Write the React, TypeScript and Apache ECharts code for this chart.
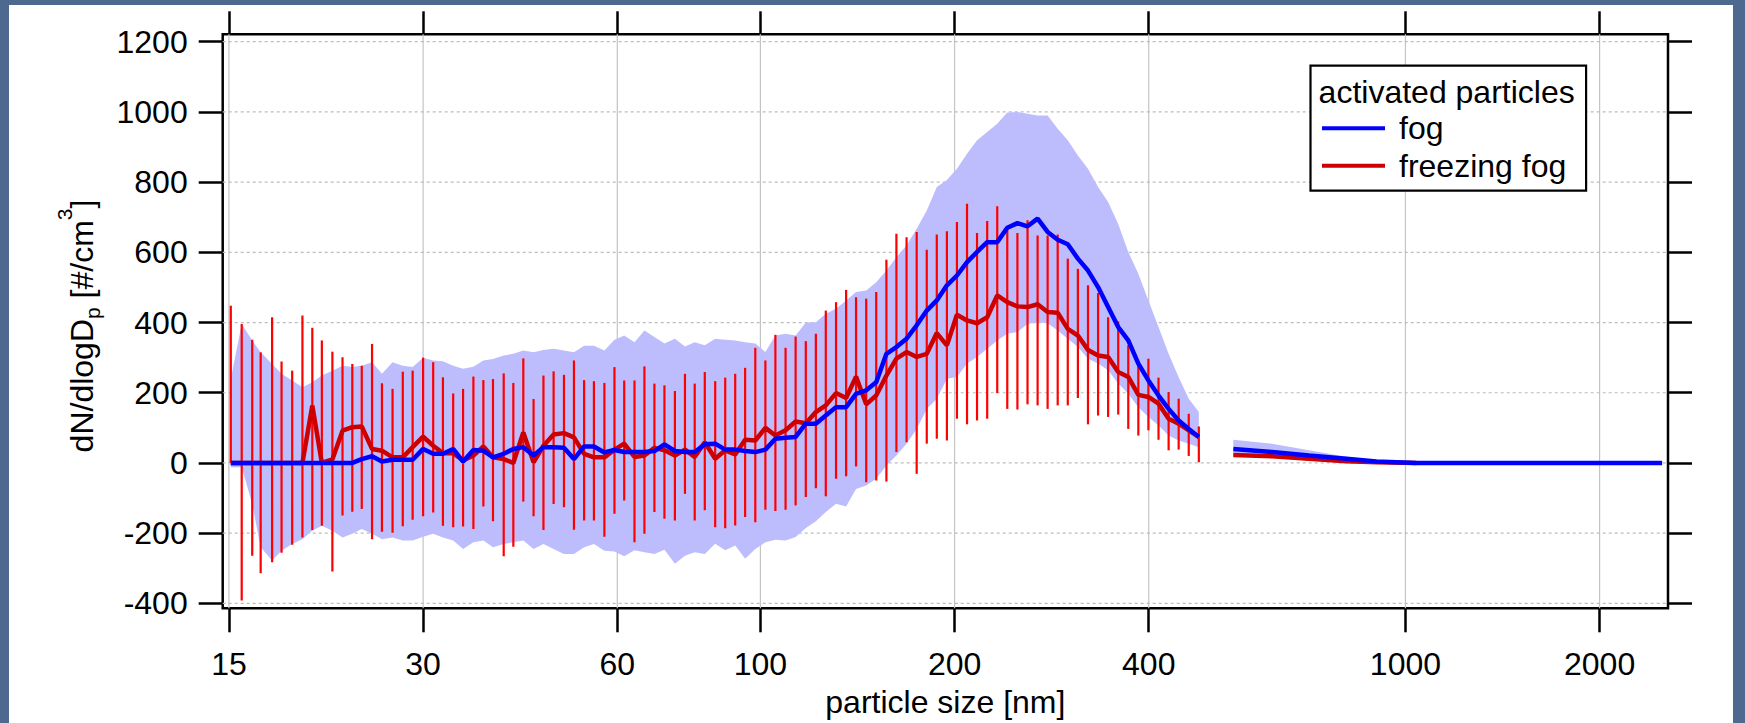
import React, { useEffect, useRef } from 'react';
import * as echarts from 'echarts';

// ---- data ----
const diameters = [
  15.1, 15.7, 16.3, 16.8, 17.5, 18.1, 18.8, 19.5, 20.2, 20.9,
  21.7, 22.5, 23.3, 24.1, 25.0, 25.9, 26.9, 27.9, 28.9, 30.0,
  31.1, 32.2, 33.4, 34.6, 35.9, 37.2, 38.5, 40.0, 41.4, 42.9,
  44.5, 46.1, 47.8, 49.6, 51.4, 53.3, 55.2, 57.3, 59.4, 61.5,
  63.8, 66.1, 68.5, 71.0, 73.7, 76.4, 79.1, 82.0, 85.1, 88.2,
  91.4, 94.7, 98.2, 101.8, 105.5, 109.4, 113.4, 117.6, 121.9, 126.3,
  131.0, 135.8, 140.7, 145.9, 151.2, 156.8, 162.5, 168.5, 174.7, 181.1,
  187.7, 194.6, 201.7, 209.1, 216.7, 224.7, 232.9, 241.4, 250.3, 259.5,
  269.0, 278.8, 289.0, 299.6, 310.6, 322.0, 333.8, 346.0, 358.7, 371.8,
  385.4, 399.5, 414.2, 429.4, 445.1, 461.4, 478.3,
];

const fogMean = [
  0, 0, 0, 0, 0, 0, 0, 0, 0, 0,
  0, 0, 0, 11, 19, 4, 9, 9, 9, 40,
  26, 26, 40, 4, 37, 35, 16, 26, 40, 45,
  21, 45, 45, 43, 11, 47, 47, 30, 37, 31,
  31, 31, 34, 53, 34, 31, 31, 53, 55, 38,
  38, 34, 31, 38, 69, 72, 74, 112, 112, 135,
  159, 159, 197, 207, 230, 311, 330, 354, 392, 434,
  463, 506, 534, 572, 601, 629, 629, 670, 683, 674,
  696, 658, 636, 623, 582, 548, 501, 444, 387, 349,
  283, 235, 192, 154, 121, 97, 74,
];

const fogUpper = [
  239, 396, 349, 315, 282, 254, 235, 216, 230, 249,
  263, 277, 273, 277, 287, 254, 287, 277, 273, 300,
  292, 290, 277, 268, 274, 292, 296, 306, 311, 320,
  315, 322, 325, 320, 315, 334, 334, 320, 351, 363,
  344, 377, 359, 340, 354, 332, 344, 335, 354, 351,
  349, 344, 340, 316, 363, 368, 363, 400, 401, 425,
  439, 463, 487, 491, 515, 548, 586, 620, 667, 719,
  786, 806, 838, 881, 919, 943, 966, 998, 1000, 995,
  990, 990, 952, 919, 876, 838, 786, 743, 681, 601,
  539, 463, 387, 311, 244, 183, 145,
];

const fogLower = [
  -12, -12, -117, -240, -278, -250, -231, -217, -193, -179,
  -193, -212, -202, -188, -202, -217, -212, -221, -221, -210,
  -202, -212, -221, -245, -226, -221, -240, -231, -226, -221,
  -245, -231, -245, -259, -259, -240, -231, -250, -252, -266,
  -249, -254, -259, -247, -287, -264, -254, -259, -230, -249,
  -235, -273, -245, -226, -219, -221, -211, -185, -166, -140,
  -116, -124, -74, -64, -45, -7, 21, 55, 97, 154,
  183, 240, 245, 283, 302, 325, 349, 368, 373, 396,
  401, 398, 377, 354, 330, 297, 283, 264, 226, 197,
  159, 131, 107, 78, 64, 55, 45,
];

const freezingMean = [
  0, 0, 0, 0, 0, 0, 0, 0, 163, 0,
  10, 92, 102, 104, 40, 35, 16, 16, 45, 75,
  49, 28, 28, 7, 21, 47, 16, 11, 0, 87,
  2, 49, 81, 85, 73, 26, 16, 16, 38, 55,
  17, 21, 43, 36, 21, 38, 17, 59, 12, 36,
  24, 66, 64, 100, 78, 93, 118, 113, 145, 164,
  199, 185, 246, 167, 192, 249, 297, 316, 302, 311,
  370, 335, 422, 406, 398, 415, 477, 458, 446, 444,
  452, 430, 428, 382, 363, 322, 306, 302, 259, 245,
  194, 188, 169, 126, 112, 93, 74,
];

const freezingUpper = [
  448, 396, 351, 315, 415, 289, 263, 420, 385, 349,
  317, 301, 282, 277, 339, 227, 211, 260, 263, 300,
  287, 244, 198, 211, 246, 236, 239, 255, 228, 298,
  182, 249, 261, 251, 292, 236, 233, 228, 273, 235,
  235, 275, 226, 221, 205, 254, 226, 259, 233, 243,
  254, 271, 328, 292, 365, 328, 360, 347, 368, 434,
  458, 493, 472, 468, 487, 579, 653, 643, 658, 607,
  651, 660, 686, 738, 655, 689, 731, 670, 655, 691,
  648, 648, 651, 582, 553, 506, 484, 415, 403, 335,
  283, 297, 243, 202, 183, 140, 104,
];

const freezingLower = [
  0, -392, -264, -314, -283, -256, -233, -212, -191, -179,
  -309, -150, -139, -131, -217, -196, -199, -180, -162, -152,
  -141, -179, -183, -181, -188, -124, -166, -266, -239, -110,
  -152, -191, -117, -126, -190, -164, -164, -210, -145, -107,
  -226, -202, -140, -159, -164, -88, -164, -135, -183, -186,
  -178, -154, -169, -133, -137, -133, -121, -97, -72, -95,
  -45, -38, -10, -55, -50, -53, 31, 59, -31, 55,
  69, 64, 126, 110, 121, 126, 199, 154, 152, 167,
  164, 154, 164, 164, 185, 110, 135, 131, 138, 97,
  78, 93, 66, 36, 38, 20, 2,
];

const opcDiameters = [541, 621, 709, 810, 902, 1040, 1200, 1500, 2000, 2500];
const fogOpcMean = [40, 31, 21, 12, 4, 0, 0, 0, 0, 0];
const fogOpcUpper = [66, 55, 36, 18, 7, 0, 0, 0, 0, 0];
const fogOpcLower = [20, 16, 10, 5, 2, 0, 0, 0, 0, 0];
const freezingOpcDiameters = [541, 621, 709, 810, 902, 1040];
const freezingOpcMean = [23, 19, 12, 5, 2, 0];

const xTickLabels = [15, 30, 60, 100, 200, 400, 1000, 2000];
const yTickLabels = [-400, -200, 0, 200, 400, 600, 800, 1000, 1200];
const xRange = [14.67, 2553];
const yRange = [-414, 1221];

// ---- styles ----
const FONT = "'Liberation Sans', Arial, Helvetica, sans-serif";
const BLUE = '#0000ff';
const DARK_RED = '#cc0000';
const BAR_RED = '#ff0000';
const BAND = '#bdbdfd';
const FRAME_BG = '#4e6990';

const lg = (v: number) => Math.log10(v);

function bandSeries(xs: number[], lo: number[], hi: number[]) {
  return {
    type: 'custom',
    silent: true,
    clip: true,
    z: 2,
    data: [[lg(xs[0]), hi[0]]],
    encode: { x: 0, y: 1 },
    renderItem: (_params: any, api: any) => {
      const pts: number[][] = [];
      for (let i = 0; i < xs.length; i++) pts.push(api.coord([lg(xs[i]), hi[i]]));
      for (let i = xs.length - 1; i >= 0; i--) pts.push(api.coord([lg(xs[i]), lo[i]]));
      return { type: 'polygon', shape: { points: pts }, style: { fill: BAND } };
    },
  };
}

function lineSeries(xs: number[], ys: number[], color: string, z: number) {
  return {
    type: 'line',
    silent: true,
    z,
    showSymbol: false,
    symbol: 'none',
    data: xs.map((x, i) => [lg(x), ys[i]]),
    lineStyle: { color, width: 4.5 },
  };
}

export default function App() {
  const ref = useRef<HTMLDivElement>(null);

  useEffect(() => {
    if (!ref.current) return;
    const chart = echarts.init(ref.current, null, { renderer: 'svg' });

    const xTickVals = xTickLabels.map(lg);
    const axisFont = { fontSize: 32, fontFamily: FONT, color: '#000' };
    const tickStyle = { color: '#000', width: 2.5 };

    const option: any = {
      animation: false,
      grid: {
        left: 222.7,
        right: 77,
        top: 34.3,
        bottom: 114.7,
        containLabel: false,
        outerBoundsMode: 'none',
        show: true,
        borderColor: '#000',
        borderWidth: 2.5,
        backgroundColor: 'transparent',
      },
      xAxis: [
        {
          type: 'value',
          min: lg(xRange[0]),
          max: lg(xRange[1]),
          position: 'bottom',
          axisLine: { show: false, onZero: false },
          splitLine: { show: false },
          axisTick: { show: true, inside: false, length: 24, lineStyle: tickStyle, customValues: xTickVals },
          axisLabel: {
            ...axisFont,
            margin: 40,
            customValues: xTickVals,
            formatter: (v: number) => String(Math.round(Math.pow(10, v))),
          },
          name: 'particle size [nm]',
          nameLocation: 'middle',
          nameGap: 78,
          nameTextStyle: { fontSize: 32, fontFamily: FONT, color: '#000' },
        },
        {
          type: 'value',
          min: lg(xRange[0]),
          max: lg(xRange[1]),
          position: 'top',
          axisLine: { show: false, onZero: false },
          splitLine: { show: false },
          axisTick: { show: true, inside: false, length: 23, lineStyle: tickStyle, customValues: xTickVals },
          axisLabel: { show: false },
        },
      ],
      yAxis: [
        {
          type: 'value',
          min: yRange[0],
          max: yRange[1],
          position: 'left',
          axisLine: { show: false, onZero: false },
          splitLine: { show: false },
          axisTick: { show: true, inside: false, length: 24, lineStyle: tickStyle, customValues: yTickLabels },
          axisLabel: { ...axisFont, margin: 35, customValues: yTickLabels, formatter: (v: number) => String(v) },
        },
        {
          type: 'value',
          min: yRange[0],
          max: yRange[1],
          position: 'right',
          axisLine: { show: false, onZero: false },
          splitLine: { show: false },
          axisTick: { show: true, inside: false, length: 24, lineStyle: tickStyle, customValues: yTickLabels },
          axisLabel: { show: false },
        },
      ],
      series: [
        // vertical grid lines
        {
          type: 'custom',
          silent: true,
          z: 1,
          data: xTickLabels.map((v) => [lg(v), 0]),
          encode: { x: 0, y: 1 },
          renderItem: (params: any, api: any) => {
            const p = api.coord([api.value(0), api.value(1)]);
            const cs = params.coordSys;
            return {
              type: 'line',
              shape: { x1: p[0], y1: cs.y, x2: p[0], y2: cs.y + cs.height },
              style: { stroke: '#c4c4c4', lineWidth: 1.2 },
            };
          },
        },
        // horizontal grid lines
        {
          type: 'custom',
          silent: true,
          z: 1,
          data: yTickLabels.map((v) => [lg(xTickLabels[0]), v]),
          encode: { x: 0, y: 1 },
          renderItem: (params: any, api: any) => {
            const p = api.coord([api.value(0), api.value(1)]);
            const cs = params.coordSys;
            return {
              type: 'line',
              shape: { x1: cs.x, y1: p[1], x2: cs.x + cs.width, y2: p[1] },
              style: { stroke: '#bcbcbc', lineWidth: 1.2, lineDash: [3, 3] },
            };
          },
        },
        bandSeries(diameters, fogLower, fogUpper),
        bandSeries(opcDiameters, fogOpcLower, fogOpcUpper),
        // freezing fog error bars
        {
          type: 'custom',
          silent: true,
          clip: true,
          z: 3,
          data: diameters.map((d, i) => [lg(d), freezingLower[i], freezingUpper[i]]),
          encode: { x: 0, y: [1, 2] },
          renderItem: (_params: any, api: any) => {
            const a = api.coord([api.value(0), api.value(1)]);
            const b = api.coord([api.value(0), api.value(2)]);
            return {
              type: 'line',
              shape: { x1: a[0], y1: a[1], x2: b[0], y2: b[1] },
              style: { stroke: BAR_RED, lineWidth: 2.2 },
            };
          },
        },
        lineSeries(diameters, freezingMean, DARK_RED, 4),
        lineSeries(freezingOpcDiameters, freezingOpcMean, DARK_RED, 4),
        lineSeries(diameters, fogMean, BLUE, 5),
        lineSeries(opcDiameters, fogOpcMean, BLUE, 5),
      ],
      graphic: [
        {
          type: 'text',
          x: 82,
          y: 326,
          rotation: Math.PI / 2,
          z: 100,
          style: {
            text: '{m|dN/dlogD}{s|p}{m| [#/cm}{u|3}{m|]}',
            align: 'center',
            verticalAlign: 'middle',
            fill: '#000',
            rich: {
              m: { fontSize: 32, fontFamily: FONT, lineHeight: 60, height: 60, verticalAlign: 'middle', fill: '#000' },
              s: { fontSize: 21, fontFamily: FONT, lineHeight: 39, height: 39, verticalAlign: 'bottom', fill: '#000' },
              u: { fontSize: 21, fontFamily: FONT, lineHeight: 24, height: 24, verticalAlign: 'top', fill: '#000' },
            },
          },
        },
        {
          type: 'rect',
          z: 100,
          shape: { x: 1310.5, y: 65.7, width: 275.6, height: 125 },
          style: { fill: '#fff', stroke: '#000', lineWidth: 2.2 },
        },
        {
          type: 'text',
          z: 101,
          x: 1318.6,
          y: 91.5,
          style: { text: 'activated particles', fontSize: 32, fontFamily: FONT, fill: '#000', align: 'left', verticalAlign: 'middle' },
        },
        {
          type: 'line',
          z: 101,
          shape: { x1: 1322, y1: 128.3, x2: 1385, y2: 128.3 },
          style: { stroke: BLUE, lineWidth: 4 },
        },
        {
          type: 'text',
          z: 101,
          x: 1399,
          y: 128.3,
          style: { text: 'fog', fontSize: 32, fontFamily: FONT, fill: '#000', align: 'left', verticalAlign: 'middle' },
        },
        {
          type: 'line',
          z: 101,
          shape: { x1: 1322, y1: 165.7, x2: 1385, y2: 165.7 },
          style: { stroke: DARK_RED, lineWidth: 4 },
        },
        {
          type: 'text',
          z: 101,
          x: 1399,
          y: 165.7,
          style: { text: 'freezing fog', fontSize: 32, fontFamily: FONT, fill: '#000', align: 'left', verticalAlign: 'middle' },
        },
      ],
    };

    chart.setOption(option);
    return () => chart.dispose();
  }, []);

  return (
    <div style={{ position: 'fixed', left: 0, top: 0, width: 1745, height: 723, background: FRAME_BG, overflow: 'hidden' }}>
      <div style={{ position: 'absolute', left: 8.5, top: 5, width: 1724.5, height: 718, background: '#ffffff' }} />
      <div ref={ref} style={{ position: 'absolute', left: 0, top: 0, width: 1745, height: 723 }} />
    </div>
  );
}
